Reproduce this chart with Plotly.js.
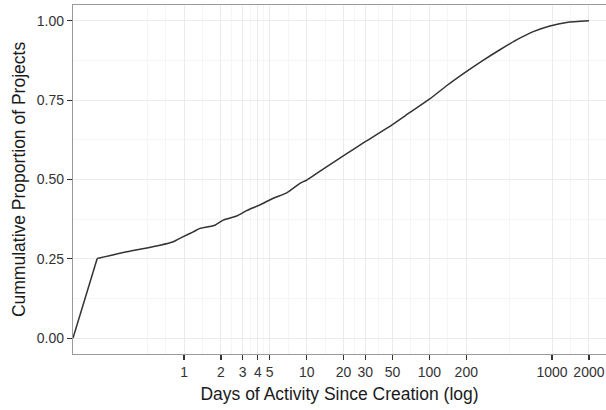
<!DOCTYPE html>
<html>
<head>
<meta charset="utf-8">
<script src="https://cdn.plot.ly/plotly-3.0.1.min.js"></script>
<style>html,body{margin:0;padding:0;background:#fff;}#chart{width:606px;height:410px;}</style>
</head>
<body>
<div id="chart"></div>
<script>
// Days of activity since creation (x, log scale) and cumulative proportion (y)
var days = [0.1245, 0.196, 0.341, 0.637, 0.818, 0.987, 1.19, 1.35, 1.79, 2.09, 2.69, 3.24, 4.16, 5.34, 6.87, 8.82, 10,
            14, 20, 30, 50, 70, 100, 140, 200, 280, 376, 514, 703, 961, 1315, 2000];
var proportion = [0, 0.251, 0.272, 0.293, 0.304, 0.320, 0.335, 0.346, 0.356, 0.372, 0.385, 0.402, 0.420, 0.441, 0.458, 0.488, 0.498,
                  0.536, 0.575, 0.619, 0.673, 0.712, 0.753, 0.797, 0.840, 0.878, 0.909, 0.940, 0.966, 0.984, 0.995, 1.0];
var xTicks = [1, 2, 3, 4, 5, 10, 20, 30, 50, 100, 200, 1000, 2000];
var xTickLabels = ['1', '2', '3', '4', '5', '10', '20', '30', '50', '100', '200', '1000', '2000'];
var yTicks = [0, 0.25, 0.5, 0.75, 1.0];
var yTickLabels = ['0.00', '0.25', '0.50', '0.75', '1.00'];
var yMinor = [0.125, 0.375, 0.625, 0.875];

// minor gridlines: log-midpoints between consecutive major breaks (ggplot style), plus the extended break below
var xMinor = [];
var lg = xTicks.map(function (v) { return Math.log10(v); });
var ext = [lg[0] - (lg[1] - lg[0])].concat(lg);
ext.forEach(function (v) { xMinor.push(Math.pow(10, v)); });
for (var i = 0; i < ext.length - 1; i++) xMinor.push(Math.pow(10, (ext[i] + ext[i + 1]) / 2));

var lineStyle = {color: '#333333', width: 1.5};
var traceStart = {
  x: days.slice(0, 2), y: proportion.slice(0, 2), type: 'scatter', mode: 'lines',
  line: lineStyle, hoverinfo: 'skip'
};
var traceRest = {
  x: days.slice(1), y: proportion.slice(1), type: 'scatter', mode: 'lines',
  line: {color: lineStyle.color, width: lineStyle.width, shape: 'spline', smoothing: 0.6}, hoverinfo: 'skip'
};

var fontFam = '"Liberation Sans", Arial, Helvetica, sans-serif';
var layout = {
  width: 606, height: 410,
  margin: {l: 73, r: 0, t: 5, b: 56},
  paper_bgcolor: '#ffffff', plot_bgcolor: '#ffffff',
  showlegend: false,
  font: {family: fontFam, size: 14, color: '#333333'},
  xaxis: {
    type: 'log', range: [-0.905, 3.44], autorange: false,
    tickmode: 'array', tickvals: xTicks, ticktext: xTickLabels,
    ticks: 'outside', ticklen: 5, tickwidth: 1.2, tickcolor: '#333333',
    tickfont: {family: fontFam, size: 14, color: '#333333'},
    showline: true, linecolor: '#9a9a9a', linewidth: 1.2, mirror: true,
    showgrid: true, gridcolor: '#ebebeb', gridwidth: 1,
    minor: {tickmode: 'array', tickvals: xMinor, showgrid: true, gridcolor: '#f5f5f5', gridwidth: 1, ticks: ''},
    zeroline: false,
    title: {text: 'Days of Activity Since Creation (log)', font: {family: fontFam, size: 17.5, color: '#1a1a1a'}, standoff: 8}
  },
  yaxis: {
    range: [-0.05, 1.05], autorange: false,
    tickmode: 'array', tickvals: yTicks, ticktext: yTickLabels,
    ticks: 'outside', ticklen: 5, tickwidth: 1.2, tickcolor: '#333333',
    tickfont: {family: fontFam, size: 14, color: '#333333'},
    showline: true, linecolor: '#9a9a9a', linewidth: 1.2,
    showgrid: true, gridcolor: '#ebebeb', gridwidth: 1,
    minor: {tickmode: 'array', tickvals: yMinor, showgrid: true, gridcolor: '#f5f5f5', gridwidth: 1, ticks: ''},
    zeroline: false,
    title: {text: 'Cummulative Proportion of Projects', font: {family: fontFam, size: 17.5, color: '#1a1a1a'}, standoff: 6}
  }
};

Plotly.newPlot('chart', [traceStart, traceRest], layout, {displayModeBar: false, staticPlot: true});
</script>
</body>
</html>
